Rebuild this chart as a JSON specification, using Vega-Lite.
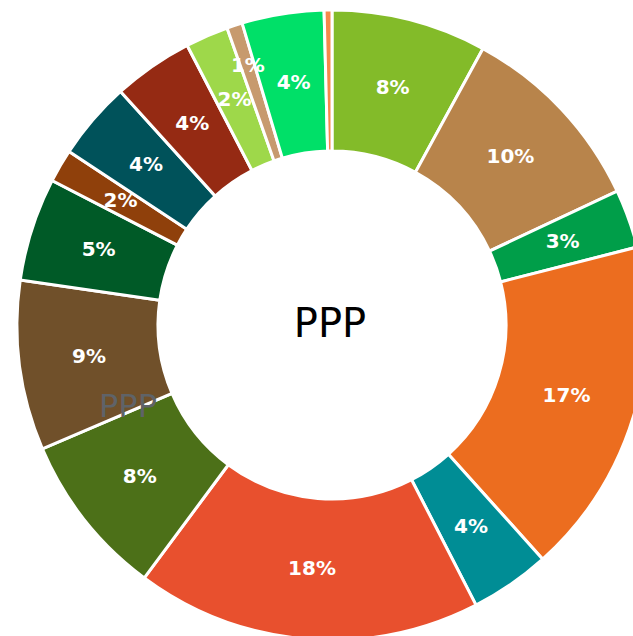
{
  "$schema": "https://vega.github.io/schema/vega-lite/v6.json",
  "width": 633,
  "height": 636,
  "autosize": "none",
  "padding": 0,
  "background": "white",
  "config": {"view": {"stroke": null}},
  "data": {
    "values": [
      {"id": 1, "value": 0.0795, "color": "c1"},
      {"id": 2, "value": 0.1005, "color": "c2"},
      {"id": 3, "value": 0.030, "color": "c3"},
      {"id": 4, "value": 0.173, "color": "c4"},
      {"id": 5, "value": 0.041, "color": "c5"},
      {"id": 6, "value": 0.177, "color": "c6"},
      {"id": 7, "value": 0.084, "color": "c7"},
      {"id": 8, "value": 0.087, "color": "c8"},
      {"id": 9, "value": 0.053, "color": "c9"},
      {"id": 10, "value": 0.017, "color": "c10"},
      {"id": 11, "value": 0.040, "color": "c11"},
      {"id": 12, "value": 0.041, "color": "c12"},
      {"id": 13, "value": 0.022, "color": "c13"},
      {"id": 14, "value": 0.008, "color": "c14"},
      {"id": 15, "value": 0.042, "color": "c15"},
      {"id": 16, "value": 0.004, "color": "c16"}
    ]
  },
  "encoding": {
    "theta": {"field": "value", "type": "quantitative", "stack": true},
    "order": {"field": "id", "type": "quantitative"}
  },
  "layer": [
    {
      "mark": {"type": "arc", "x": 332, "y": 325, "innerRadius": 174, "outerRadius": 315, "stroke": "white", "strokeWidth": 3},
      "encoding": {
        "color": {
          "field": "color", "type": "nominal", "legend": null,
          "scale": {
            "domain": ["c1","c2","c3","c4","c5","c6","c7","c8","c9","c10","c11","c12","c13","c14","c15","c16"],
            "range": ["#83BB29","#B8844B","#009E49","#EC6D1F","#008D95","#E8502E","#4C7018","#70502A","#005A27","#8F400B","#00525A","#952A13","#9ED84A","#C79A6E","#00E068","#F5894A"]
          }
        }
      }
    },
    {
      "mark": {"type": "text", "x": 332, "y": 325, "radius": 245, "color": "white", "font": "DejaVu Sans", "fontWeight": "bold", "fontSize": 20, "align": "center", "baseline": "middle"},
      "encoding": {
        "text": {
          "condition": {"test": "datum.value < 0.01", "value": ""},
          "field": "value", "type": "quantitative", "format": ".0%"
        }
      }
    },
    {
      "mark": {"type": "text", "x": 332, "y": 325, "radius": 272, "color": "white", "font": "DejaVu Sans", "fontWeight": "bold", "fontSize": 20, "align": "center", "baseline": "middle"},
      "encoding": {
        "text": {
          "condition": {"test": "datum.value < 0.005 || datum.value >= 0.01", "value": ""},
          "field": "value", "type": "quantitative", "format": ".0%"
        }
      }
    },
    {
      "data": {"values": [{"t": "PPP"}]},
      "mark": {"type": "text", "x": 330, "y": 337, "font": "DejaVu Sans", "fontSize": 40, "color": "black", "align": "center", "baseline": "alphabetic"},
      "encoding": {"text": {"field": "t"}, "theta": null, "order": null}
    },
    {
      "data": {"values": [{"t": "PPP"}]},
      "mark": {"type": "text", "x": 128, "y": 417, "font": "DejaVu Sans", "fontSize": 32, "color": "#5F6368", "align": "center", "baseline": "alphabetic"},
      "encoding": {"text": {"field": "t"}, "theta": null, "order": null}
    }
  ]
}
